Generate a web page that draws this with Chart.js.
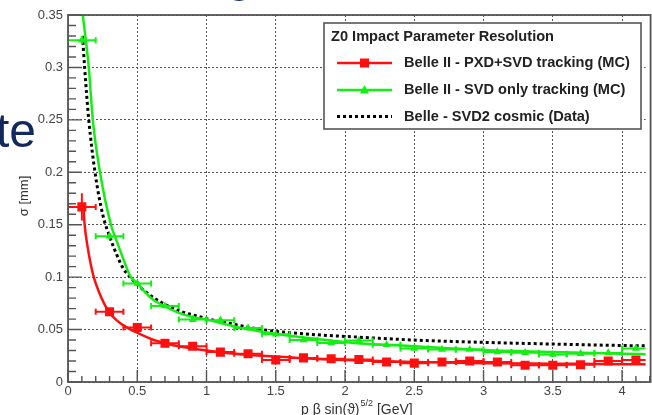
<!DOCTYPE html>
<html>
<head>
<meta charset="utf-8">
<script src="https://cdn.jsdelivr.net/npm/chart.js@4/dist/chart.umd.min.js"></script>
<style>
html,body{margin:0;padding:0;background:#fff;}
#wrap{position:relative;width:652px;height:415px;overflow:hidden;}
canvas{display:block;}
</style>
</head>
<body>
<div id="wrap"><canvas id="c" width="652" height="415"></canvas></div>
<script>
// ---- data ----
const xBins = [0.1,0.3,0.5,0.7,0.9,1.1,1.3,1.5,1.7,1.9,2.1,2.3,2.5,2.7,2.9,3.1,3.3,3.5,3.7,3.9,4.1];
const xHalfWidth = 0.1;
const redPXDSVD = [0.167,0.067,0.052,0.037,0.034,0.0285,0.027,0.021,0.023,0.0222,0.0215,0.019,0.018,0.019,0.020,0.019,0.016,0.016,0.0165,0.020,0.021];
const redErr    = [0.013,0.003,0.003,0.002,0.002,0.002,0.002,0.002,0.0015,0.0015,0.0015,0.0015,0.0015,0.0015,0.0015,0.0015,0.0015,0.0015,0.0015,0.0015,0.0015];
const greenSVD  = [0.326,0.139,0.094,0.0725,0.0595,0.059,0.0515,0.0455,0.040,0.0372,0.0395,0.0355,0.032,0.031,0.031,0.0287,0.028,0.0262,0.027,0.0277,0.032];
const greenErr  = [0.004,0.003,0.002,0.002,0.0015,0.0015,0.0015,0.0015,0.0015,0.0015,0.0015,0.0015,0.0015,0.0015,0.0015,0.0015,0.0015,0.0015,0.0015,0.0015,0.0015];

const redFitX   = [0.11,0.12,0.14,0.16,0.186,0.22,0.26,0.30,0.35,0.40,0.453,0.50,0.60,0.70,0.80,0.90,1.0,1.2,1.4,1.6,1.8,2.0,2.5,3.0,3.5,4.0,4.2];
const redFitY   = [0.17,0.15,0.13,0.115,0.10,0.087,0.075,0.066,0.059,0.054,0.050,0.047,0.041,0.037,0.034,0.032,0.030,0.027,0.025,0.0235,0.022,0.021,0.019,0.018,0.0175,0.017,0.017];
const greenFitX = [0.107,0.15,0.179,0.231,0.31,0.35,0.40,0.453,0.50,0.60,0.70,0.80,0.90,1.0,1.2,1.4,1.6,1.8,2.0,2.5,3.0,3.5,4.0,4.2];
const greenFitY = [0.35,0.30,0.25,0.20,0.15,0.135,0.117,0.10,0.094,0.080,0.072,0.066,0.062,0.0595,0.053,0.048,0.044,0.041,0.038,0.034,0.0305,0.0285,0.027,0.0265];
const belleX    = [0.105,0.12,0.15,0.195,0.25,0.30,0.35,0.40,0.45,0.50,0.60,0.70,0.80,0.90,1.0,1.2,1.4,1.6,1.8,2.0,2.5,3.0,3.5,4.0,4.2];
const belleY    = [0.33,0.30,0.25,0.20,0.16,0.139,0.122,0.108,0.10,0.093,0.082,0.074,0.068,0.064,0.0605,0.055,0.050,0.047,0.045,0.0435,0.040,0.0378,0.0362,0.0348,0.0344];

const yTicks = [0,0.05,0.1,0.15,0.2,0.25,0.3,0.35];
const xTicks = [0,0.5,1,1.5,2,2.5,3,3.5,4];
const legendTitle = "Z0 Impact Parameter Resolution";
const seriesNames = ["Belle II - PXD+SVD tracking (MC)","Belle II - SVD only tracking (MC)","Belle - SVD2 cosmic (Data)"];
const xTitle = ["p β sin(ϑ)", "5/2", " [GeV]"];
const yTitle = "σ [mm]";

// ---- styles ----
const RED = '#ff1010', GREEN = '#14ee14', FRAME = '#555';
const FONT = '"Liberation Sans", Arial, sans-serif';
const pts = (xs, ys) => xs.map((x, i) => ({x, y: ys[i]}));

const errorBars = {
  id: 'errorBars',
  afterDatasetsDraw(chart) {
    const {ctx, chartArea: a, scales: {x, y}} = chart;
    ctx.save();
    ctx.beginPath(); ctx.rect(a.left, a.top, a.right - a.left, a.bottom - a.top); ctx.clip();
    [[redPXDSVD, redErr, RED], [greenSVD, greenErr, GREEN]].forEach(([vals, errs, col]) => {
      ctx.strokeStyle = col; ctx.lineWidth = 2;
      xBins.forEach((xv, i) => {
        const px = x.getPixelForValue(xv), py = y.getPixelForValue(vals[i]);
        const x0 = x.getPixelForValue(xv - xHalfWidth), x1 = x.getPixelForValue(xv + xHalfWidth);
        const y0 = y.getPixelForValue(vals[i] - errs[i]), y1 = y.getPixelForValue(vals[i] + errs[i]);
        ctx.beginPath();
        ctx.moveTo(x0, py); ctx.lineTo(x1, py);
        ctx.moveTo(x0, py - 3); ctx.lineTo(x0, py + 3);
        ctx.moveTo(x1, py - 3); ctx.lineTo(x1, py + 3);
        ctx.moveTo(px, y0); ctx.lineTo(px, y1);
        ctx.stroke();
      });
    });
    ctx.restore();
  }
};

const frameAndTicks = {
  id: 'frameAndTicks',
  afterDraw(chart) {
    const {ctx, chartArea: a, scales: {x, y}} = chart;
    ctx.save();
    ctx.strokeStyle = FRAME; ctx.lineWidth = 1.8;
    ctx.strokeRect(a.left, a.top, a.right - a.left + 5, a.bottom - a.top);
    // y ticks (inside)
    ctx.lineWidth = 1.4;
    ctx.beginPath();
    for (let k = 0; k <= 35; k++) {
      const v = k / 100, py = y.getPixelForValue(v);
      const len = (k % 5 === 0) ? 14 : 8;
      ctx.moveTo(a.left, py); ctx.lineTo(a.left + len, py);
    }
    // x ticks (inside)
    for (let k = 0; k <= 42; k++) {
      const v = k / 10, px = x.getPixelForValue(v);
      const len = (k % 5 === 0) ? 12 : 6;
      ctx.moveTo(px, a.bottom); ctx.lineTo(px, a.bottom - len);
    }
    ctx.stroke();

    // axis titles
    ctx.fillStyle = '#333';
    ctx.font = '13px ' + FONT;
    ctx.save();
    ctx.translate(24, 196); ctx.rotate(-Math.PI / 2);
    ctx.textAlign = 'center'; ctx.textBaseline = 'middle';
    ctx.fillText(yTitle, 0, 0);
    ctx.restore();
    ctx.textBaseline = 'alphabetic'; ctx.textAlign = 'left';
    ctx.font = '14px ' + FONT;
    let tx = 301;
    ctx.fillText(xTitle[0], tx, 414); tx += ctx.measureText(xTitle[0]).width;
    ctx.font = '9px ' + FONT;
    ctx.fillText(xTitle[1], tx + 1, 406); tx += ctx.measureText(xTitle[1]).width + 1;
    ctx.font = '14px ' + FONT;
    ctx.fillText(xTitle[2], tx, 414);

    // legend
    const L = 324, T = 23, R = 641, B = 129;
    ctx.fillStyle = '#fff'; ctx.fillRect(L, T, R - L, B - T);
    ctx.strokeStyle = '#555'; ctx.lineWidth = 1.6; ctx.strokeRect(L, T, R - L, B - T);
    ctx.fillStyle = '#222';
    ctx.font = 'bold 14.6px ' + FONT;
    ctx.textBaseline = 'middle';
    ctx.fillText(legendTitle, 331, 37);
    const rows = [63, 90, 116.5];
    const cols = [RED, GREEN, '#000'];
    rows.forEach((ry, i) => {
      ctx.save();
      ctx.strokeStyle = cols[i];
      ctx.lineWidth = i === 2 ? 3 : 2.5;
      if (i === 2) ctx.setLineDash([3, 3]);
      ctx.beginPath(); ctx.moveTo(337, ry); ctx.lineTo(392, ry); ctx.stroke();
      ctx.restore();
      ctx.fillStyle = cols[i];
      if (i === 0) ctx.fillRect(360, ry - 4.5, 9, 9);
      if (i === 1) { ctx.beginPath(); ctx.moveTo(364.5, ry - 5); ctx.lineTo(369, ry + 3.5); ctx.lineTo(360, ry + 3.5); ctx.closePath(); ctx.fill(); }
      ctx.fillStyle = '#222';
      ctx.fillText(seriesNames[i], 404, ry);
    });

    // slide background text fragments
    ctx.fillStyle = '#13285c';
    ctx.font = '48px ' + FONT;
    ctx.textBaseline = 'alphabetic';
    ctx.fillText('te', -4, 147);
    ctx.fillText('g', 226, -9);
    ctx.restore();
  }
};

new Chart(document.getElementById('c'), {
  type: 'line',
  data: {
    datasets: [
      {data: pts(xBins, redPXDSVD), showLine: false, pointStyle: 'rect', pointRadius: 6.4, pointHoverRadius: 6.4, backgroundColor: RED, borderColor: RED, borderWidth: 0},
      {data: pts(xBins, greenSVD), showLine: false, pointStyle: 'triangle', pointRadius: 4.6, pointHoverRadius: 4.6, backgroundColor: GREEN, borderColor: GREEN, borderWidth: 0},
      {data: pts(redFitX, redFitY), borderColor: RED, borderWidth: 2.5, pointRadius: 0, cubicInterpolationMode: 'monotone'},
      {data: pts(greenFitX, greenFitY), borderColor: GREEN, borderWidth: 2.5, pointRadius: 0, cubicInterpolationMode: 'monotone'},
      {data: pts(belleX, belleY), borderColor: '#000', borderWidth: 3, borderDash: [3, 3], pointRadius: 0, cubicInterpolationMode: 'monotone'}
    ]
  },
  options: {
    responsive: false,
    animation: false,
    events: [],
    layout: {padding: {top: 15, right: 0, left: 0, bottom: 0}},
    plugins: {legend: {display: false}, tooltip: {enabled: false}},
    scales: {
      x: {
        type: 'linear', min: 0, max: 4.17,
        afterFit(s) { s.height = 33; },
        afterBuildTicks(s) { s.ticks = xTicks.map(v => ({value: v})); },
        ticks: {color: '#444', padding: 2, font: {size: 13, family: FONT}, maxRotation: 0, autoSkip: false,
                callback: v => String(Number(v.toFixed(2)))},
        grid: {color: '#555', lineWidth: 1, drawTicks: false},
        border: {display: false, dash: [2, 2]}
      },
      y: {
        type: 'linear', min: 0, max: 0.35,
        afterFit(s) { s.width = 68; },
        afterBuildTicks(s) { s.ticks = yTicks.map(v => ({value: v})); },
        ticks: {color: '#444', padding: 5, font: {size: 13, family: FONT}, autoSkip: false,
                callback: v => String(Number(v.toFixed(2)))},
        grid: {color: '#555', lineWidth: 1, drawTicks: false},
        border: {display: false, dash: [2, 2]}
      }
    }
  },
  plugins: [errorBars, frameAndTicks]
});
</script>
</body>
</html>
